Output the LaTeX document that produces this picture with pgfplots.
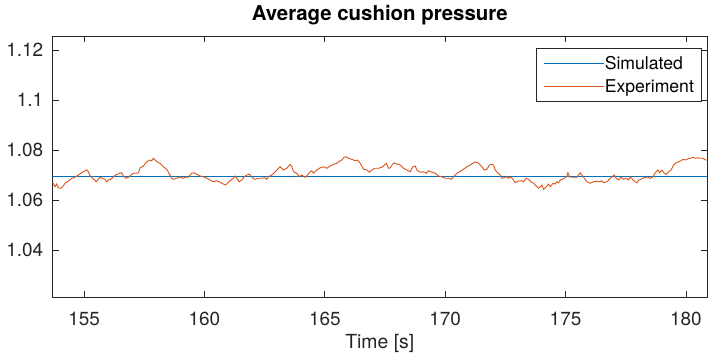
\documentclass[border=0pt]{standalone}
\usepackage{pgfplots}
\usepackage{pgfplotstable}
\pgfplotsset{compat=1.18}
\usepackage{fontspec}
\setmainfont{TeX Gyre Heros}
\definecolor{mblue}{rgb}{0,0.447,0.741}
\definecolor{morange}{rgb}{0.85,0.325,0.098}
\definecolor{axgray}{rgb}{0.15,0.15,0.15}

\pgfplotstableread{
t v
153.65 1.0668
153.72 1.0667
153.79 1.0653
153.86 1.0664
153.93 1.0649
154.03 1.0647
154.11 1.0653
154.21 1.0667
154.35 1.0676
154.49 1.0687
154.62 1.0691
154.76 1.0700
154.90 1.0709
155.04 1.0717
155.11 1.0720
155.18 1.0713
155.25 1.0696
155.36 1.0687
155.50 1.0673
155.59 1.0683
155.66 1.0691
155.77 1.0687
155.87 1.0683
155.94 1.0673
156.01 1.0680
156.11 1.0683
156.22 1.0693
156.36 1.0703
156.49 1.0707
156.56 1.0709
156.63 1.0696
156.74 1.0687
156.84 1.0691
156.94 1.0700
157.05 1.0707
157.19 1.0707
157.26 1.0709
157.33 1.0729
157.46 1.0736
157.60 1.0753
157.74 1.0760
157.81 1.0757
157.88 1.0767
157.95 1.0760
158.02 1.0753
158.16 1.0747
158.30 1.0733
158.43 1.0723
158.57 1.0700
158.64 1.0687
158.71 1.0683
158.85 1.0687
158.99 1.0693
159.10 1.0687
159.20 1.0691
159.33 1.0691
159.47 1.0707
159.57 1.0709
159.68 1.0703
159.82 1.0696
159.96 1.0693
160.10 1.0687
160.23 1.0680
160.37 1.0673
160.51 1.0677
160.65 1.0671
160.79 1.0664
160.86 1.0660
160.93 1.0664
161.00 1.0673
161.07 1.0677
161.20 1.0687
161.27 1.0696
161.34 1.0687
161.44 1.0673
161.55 1.0680
161.65 1.0693
161.76 1.0700
161.87 1.0704
161.97 1.0691
162.10 1.0683
162.24 1.0687
162.38 1.0687
162.52 1.0689
162.59 1.0683
162.66 1.0693
162.80 1.0700
162.94 1.0713
163.01 1.0720
163.14 1.0733
163.21 1.0727
163.28 1.0720
163.42 1.0727
163.56 1.0743
163.63 1.0733
163.70 1.0713
163.84 1.0707
163.95 1.0693
164.04 1.0700
164.18 1.0691
164.28 1.0700
164.39 1.0713
164.46 1.0717
164.53 1.0707
164.67 1.0720
164.81 1.0729
164.95 1.0733
165.08 1.0727
165.22 1.0736
165.36 1.0743
165.50 1.0747
165.57 1.0753
165.71 1.0760
165.80 1.0771
165.89 1.0773
165.98 1.0767
166.12 1.0763
166.26 1.0757
166.36 1.0760
166.47 1.0747
166.61 1.0723
166.75 1.0720
166.86 1.0711
166.95 1.0720
167.09 1.0727
167.23 1.0727
167.37 1.0731
167.44 1.0736
167.55 1.0747
167.65 1.0727
167.72 1.0729
167.79 1.0740
167.88 1.0749
167.99 1.0744
168.13 1.0740
168.27 1.0727
168.41 1.0720
168.55 1.0713
168.66 1.0733
168.76 1.0736
168.82 1.0720
168.96 1.0711
169.10 1.0713
169.21 1.0707
169.31 1.0717
169.45 1.0711
169.59 1.0707
169.72 1.0696
169.86 1.0693
170.00 1.0687
170.14 1.0687
170.25 1.0683
170.35 1.0693
170.49 1.0707
170.63 1.0715
170.76 1.0723
170.90 1.0733
171.04 1.0740
171.25 1.0753
171.39 1.0747
171.53 1.0733
171.62 1.0720
171.73 1.0723
171.84 1.0740
171.94 1.0743
172.01 1.0740
172.08 1.0720
172.18 1.0709
172.29 1.0700
172.36 1.0687
172.43 1.0689
172.54 1.0693
172.63 1.0687
172.73 1.0693
172.84 1.0680
172.91 1.0669
173.05 1.0676
173.19 1.0677
173.26 1.0673
173.37 1.0687
173.47 1.0683
173.56 1.0673
173.67 1.0667
173.78 1.0656
173.88 1.0647
173.95 1.0653
174.02 1.0660
174.09 1.0643
174.20 1.0653
174.30 1.0664
174.37 1.0653
174.48 1.0667
174.57 1.0664
174.64 1.0673
174.71 1.0669
174.78 1.0680
174.85 1.0683
174.95 1.0687
175.06 1.0696
175.10 1.0709
175.17 1.0693
175.27 1.0691
175.36 1.0691
175.47 1.0691
175.54 1.0700
175.61 1.0709
175.68 1.0700
175.78 1.0687
175.89 1.0673
176.03 1.0667
176.17 1.0673
176.31 1.0676
176.42 1.0673
176.51 1.0677
176.58 1.0669
176.72 1.0673
176.86 1.0687
176.97 1.0696
177.03 1.0700
177.11 1.0687
177.21 1.0680
177.30 1.0691
177.41 1.0683
177.52 1.0687
177.62 1.0680
177.69 1.0693
177.80 1.0680
177.90 1.0673
177.97 1.0669
178.04 1.0680
178.13 1.0683
178.22 1.0687
178.31 1.0691
178.41 1.0691
178.52 1.0687
178.63 1.0693
178.73 1.0709
178.83 1.0720
178.91 1.0709
179.01 1.0720
179.10 1.0707
179.19 1.0703
179.28 1.0713
179.38 1.0720
179.49 1.0740
179.60 1.0749
179.70 1.0753
179.80 1.0757
179.88 1.0763
179.98 1.0760
180.07 1.0764
180.18 1.0767
180.30 1.0771
180.39 1.0767
180.49 1.0769
180.60 1.0767
180.71 1.0767
180.81 1.0760
180.93 1.0760
}\expdata

\begin{document}
\begin{tikzpicture}
\useasboundingbox (-52.3bp,-56.7bp) rectangle (655.7bp,297.3bp);
\begin{axis}[
  scale only axis, width=655bp, height=261.3bp,
  xmin=153.68, xmax=180.89, ymin=1.0211, ymax=1.1256,
  axis line style={axgray, line width=0.7bp},
  xtick={155,160,165,170,175,180},
  ytick={1.04,1.06,1.08,1.1,1.12},
  yticklabels={1.04,1.06,1.08,1.1,1.12},
  tick align=inside, major tick length=6.5bp,
  tick style={axgray, line width=0.7bp},
  /pgf/number format/assume math mode=true,
  xticklabel style={font=\fontsize{19}{22}\selectfont, text=axgray, anchor=base, inner sep=0pt, yshift=-27.7bp},
  yticklabel style={font=\fontsize{19}{22}\selectfont, text=axgray, anchor=east, inner sep=0pt, xshift=-9bp},
  title={Average cushion pressure},
  title style={at={(0.5,1)}, anchor=base, yshift=10bp, inner sep=0pt, font=\bfseries\fontsize{20.5}{24}\selectfont},
  xlabel={Time [s]},
  xlabel style={at={(0.5,0)}, anchor=base, yshift=-51bp, inner sep=0pt, font=\fontsize{19.5}{23}\selectfont, text=axgray},
  legend style={at={(1,1)}, anchor=north east, xshift=-6bp, yshift=-12.3bp, draw=axgray, line width=0.7bp,
    font=\fontsize{17.7}{21}\selectfont, inner xsep=7bp, inner ysep=8bp, row sep=10.2bp,
    nodes={inner sep=0pt, text depth=0pt}},
  legend image code/.code={\draw[#1] (0bp,0bp) -- (60bp,0bp);},
  legend cell align=left,
]
\addplot[mblue, line width=1.3bp] coordinates {(153.5,1.0693) (181,1.0693)};
\addlegendentry{Simulated}
\addplot[morange, line width=0.9bp] table[x=t, y=v] {\expdata};
\addlegendentry{Experiment}
\end{axis}
\end{tikzpicture}
\end{document}
